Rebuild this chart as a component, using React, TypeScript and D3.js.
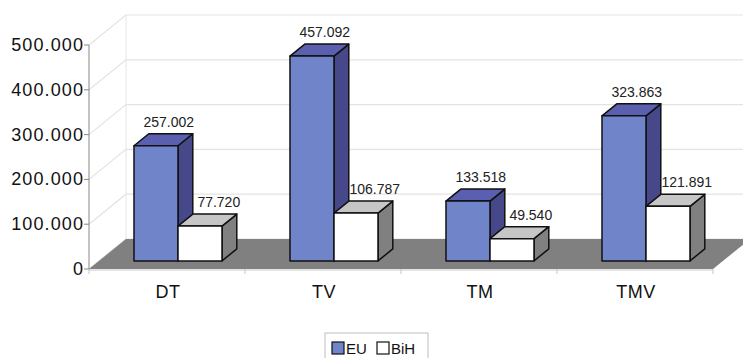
import React from "react";
import * as d3 from "d3";

const categories = ["DT", "TV", "TM", "TMV"];
const seriesNames = ["EU", "BiH"];
const euValues = [257002, 457092, 133518, 323863];
const bihValues = [77720, 106787, 49540, 121891];
const yTicks = [0, 100000, 200000, 300000, 400000, 500000];

const W = 743;
const H = 358;
const X0 = 89;
const X1 = 713;
const Y0 = 269;
const YTOP = 45;
const DX = 37;
const DY = -30;
const D0 = 0.27;
const D1 = 0.67;

const fmt = (v: number) => {
  if (v === 0) return "0";
  const s = String(v);
  return s.slice(0, s.length - 3) + "." + s.slice(s.length - 3);
};

const faces = {
  EU: { front: "#6f84c9", top: "#5b5fb0", side: "#474889" },
  BiH: { front: "#ffffff", top: "#c6c6c6", side: "#808080" },
};

export default function App() {
  const x = d3.scaleBand<string>().domain(categories).range([X0, X1]);
  const y = d3.scaleLinear().domain([0, 500000]).range([Y0, YTOP]);
  const sub = d3.scaleBand<string>().domain(seriesNames).range([-43, 45]);

  const data = categories.map((c, i) => ({ c, vals: [euValues[i], bihValues[i]] }));

  const pt = (px: number, py: number, d: number) => [px + DX * d, py + DY * d].join(",");

  return (
    <svg width={W} height={H} style={{ position: "absolute", left: 0, top: 0, fontFamily: "Liberation Sans, Arial, sans-serif" }}>
      <rect width={W} height={H} fill="#fff" />
      {/* walls */}
      <line x1={X0 + DX} y1={y(500000) + DY} x2={X0 + DX} y2={Y0 + DY} stroke="#e6e6e6" />
      {yTicks.map((t) => (
        <g key={t}>
          <polyline
            points={`${X0},${y(t)} ${X0 + DX},${y(t) + DY} ${W + 10},${y(t) + DY}`}
            fill="none"
            stroke="#e3e3e3"
            strokeWidth={1.2}
          />
        </g>
      ))}
      {/* floor */}
      <polygon
        points={`${X0},${Y0} ${X1},${Y0} ${X1 + DX},${Y0 + DY} ${X0 + DX},${Y0 + DY}`}
        fill="#808080"
      />
      {/* category axis */}
      <line x1={X0} y1={Y0 + 1} x2={X1} y2={Y0 + 1} stroke="#c8c8c8" />
      {[...categories.map((c) => x(c)!), X1].map((tx, i) => (
        <line key={i} x1={tx} y1={Y0} x2={tx} y2={Y0 + 5} stroke="#c8c8c8" />
      ))}
      {categories.map((c) => (
        <text key={c} x={x(c)! + x.bandwidth() / 2 + 1} y={298} fontSize={18} textAnchor="middle" fill="#111" letterSpacing={0.5}>
          {c}
        </text>
      ))}
      {/* value axis */}
      <line x1={X0} y1={YTOP} x2={X0} y2={Y0} stroke="#888" />
      {yTicks.map((t) => (
        <g key={t}>
          <line x1={X0 - 5} y1={y(t)} x2={X0} y2={y(t)} stroke="#888" />
          <text x={84} y={y(t) + 6} fontSize={18} textAnchor="end" fill="#111" letterSpacing={1.1}>
            {fmt(t)}
          </text>
        </g>
      ))}
      {/* bars */}
      {data.map((d) =>
        d.vals.map((v, si) => {
          const name = seriesNames[si] as "EU" | "BiH";
          const col = faces[name];
          const cx = x(d.c)! + x.bandwidth() / 2;
          const bx0 = cx + sub(name)!;
          const bx1 = bx0 + sub.bandwidth();
          const yt = y(v);
          const front = `${pt(bx0, yt, D0)} ${pt(bx1, yt, D0)} ${pt(bx1, Y0, D0)} ${pt(bx0, Y0, D0)}`;
          const top = `${pt(bx0, yt, D0)} ${pt(bx1, yt, D0)} ${pt(bx1, yt, D1)} ${pt(bx0, yt, D1)}`;
          const side = `${pt(bx1, yt, D0)} ${pt(bx1, yt, D1)} ${pt(bx1, Y0, D1)} ${pt(bx1, Y0, D0)}`;
          const lx = (bx0 + bx1) / 2 + DX * D1 + (si === 0 ? -2 : 4);
          const ly = yt + DY * D1 - 7;
          return (
            <g key={d.c + name} stroke="#111" strokeWidth={1.5} strokeLinejoin="round">
              <polygon points={side} fill={col.side} />
              <polygon points={top} fill={col.top} />
              <polygon points={front} fill={col.front} />
              <text x={lx} y={ly} fontSize={14} textAnchor="middle" fill="#222" stroke="none">
                {fmt(v)}
              </text>
            </g>
          );
        })
      )}
      {/* legend */}
      <rect x={325} y={333} width={103} height={32} fill="#fff" stroke="#bdbdbd" />
      <rect x={332} y={342} width={12} height={12} fill={faces.EU.front} stroke="#111" strokeWidth={1.2} />
      <text x={346} y={354} fontSize={15} fill="#111">EU</text>
      <rect x={377} y={342} width={12} height={12} fill="#fff" stroke="#111" strokeWidth={1.2} />
      <text x={391} y={354} fontSize={15} fill="#111">BiH</text>
    </svg>
  );
}
